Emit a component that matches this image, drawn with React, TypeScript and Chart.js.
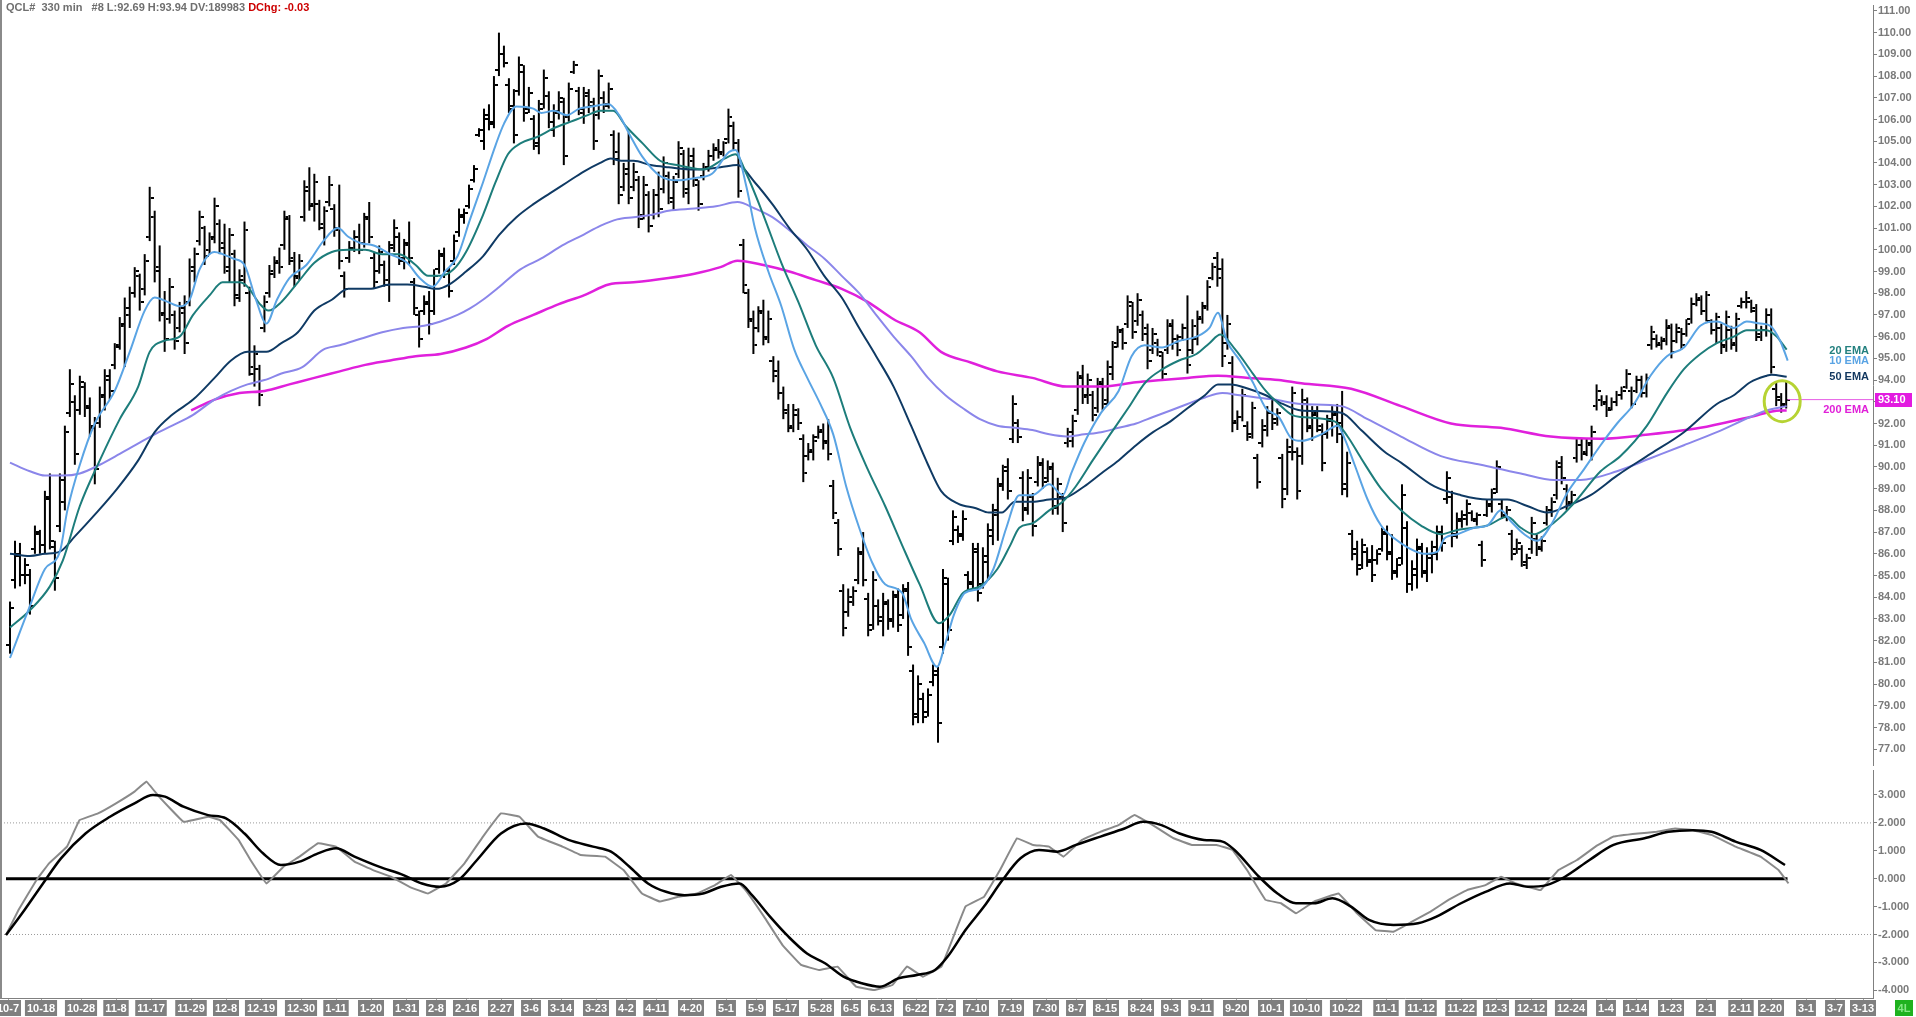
import React, { useEffect, useRef } from "react";
import { Chart, registerables } from "chart.js";

Chart.register(...registerables);

const FONT = "Arial, 'Liberation Sans', sans-serif";
const AXIS_GRAY = "#808080";

// ---- price bars (one per session, index 0..356) ----
const opens = [
  81.8, 84.8, 85.9, 85.0, 85.0, 86.2, 86.9, 86.4, 88.6, 86.3,
  87.3, 88.4, 92.5, 93.0, 92.6, 93.7, 92.8, 91.9, 92.0, 93.2,
  94.0, 94.7, 95.6, 96.5, 97.0, 98.0, 98.8, 98.2, 100.6, 101.5,
  99.2, 97.0, 96.8, 97.0, 96.4, 97.1, 97.6, 99.0, 100.4, 101.0,
  100.0, 100.5, 101.2, 100.3, 99.0, 99.8, 97.9, 98.6, 98.0, 94.3,
  94.5, 96.4, 98.0, 98.9, 99.4, 100.2, 101.4, 99.5, 98.8, 101.5,
  102.7, 102.0, 102.1, 101.0, 102.2, 101.9, 101.0, 98.8, 99.6, 100.1,
  100.6, 100.3, 101.5, 99.6, 99.0, 99.3, 98.4, 100.2, 100.6, 99.5,
  100.3, 98.5, 97.0, 97.2, 97.5, 97.2, 99.1, 99.8, 99.0, 99.5,
  100.8, 101.5, 102.0, 103.2, 105.3, 105.0, 106.0, 105.9, 108.3, 109.0,
  107.6, 106.5, 107.3, 108.2, 106.5, 106.0, 104.8, 106.7, 107.1, 105.5,
  106.3, 106.8, 106.1, 108.2, 107.3, 106.3, 107.1, 106.8, 106.2, 107.0,
  106.7, 105.3, 104.5, 102.9, 103.5, 102.9, 103.2, 101.6, 102.5, 101.6,
  102.5, 102.8, 103.4, 102.2, 103.5, 104.4, 102.6, 104.1, 103.0, 103.4,
  103.7, 104.3, 104.6, 104.5, 105.1, 105.7, 104.9, 100.2, 98.0, 96.8,
  96.4, 97.2, 96.0, 94.9, 94.4, 93.4, 92.6, 91.8, 92.4, 91.3,
  90.5, 90.7, 91.4, 91.6, 91.2, 89.1, 87.4, 84.3, 83.3, 83.8,
  84.8, 86.1, 83.9, 82.7, 83.6, 82.9, 83.7, 83.0, 84.1, 83.2,
  84.4, 80.6, 78.6, 79.3, 78.7, 80.1, 80.4, 81.7, 84.6, 86.6,
  87.1, 86.9, 85.0, 84.7, 86.2, 84.6, 85.6, 86.8, 87.8, 89.1,
  90.0, 91.3, 92.0, 89.5, 88.1, 88.6, 89.3, 90.1, 89.5, 89.9,
  88.1, 88.6, 91.1, 91.2, 92.6, 94.2, 93.2, 93.3, 92.7, 93.9,
  93.1, 94.3, 95.7, 96.2, 96.6, 97.4, 96.7, 97.0, 96.4, 95.4,
  95.7, 95.1, 95.4, 96.6, 95.9, 96.0, 96.4, 95.4, 95.9, 96.8,
  97.4, 98.7, 99.6, 99.1, 95.7, 94.8, 92.0, 92.3, 91.9, 91.5,
  90.4, 91.1, 91.7, 92.5, 92.2, 90.4, 89.0, 90.7, 90.7, 90.5,
  92.9, 91.8, 92.4, 91.7, 91.5, 92.2, 92.4, 92.0, 89.0, 86.9,
  86.2, 85.5, 86.1, 85.6, 85.7, 86.2, 86.9, 86.1, 85.2, 85.8,
  87.2, 84.6, 85.0, 86.2, 85.1, 85.8, 86.0, 87.0, 88.5, 88.6,
  86.9, 87.5, 87.6, 87.9, 87.5, 86.4, 87.8, 88.2, 89.0, 88.3,
  87.7, 86.9, 86.2, 86.2, 85.5, 86.2, 86.7, 86.3, 87.4, 88.0,
  88.7, 90.2, 89.0, 88.4, 90.4, 91.0, 90.7, 91.0, 92.8, 93.1,
  92.9, 92.7, 93.0, 93.3, 93.7, 93.5, 93.5, 94.0, 93.4, 95.6,
  95.9, 95.6, 95.8, 96.4, 95.8, 96.2, 96.1, 96.8, 97.5, 97.7,
  97.2, 96.7, 96.3, 96.4, 95.6, 96.3, 95.6, 97.4, 97.6, 97.6,
  97.2, 96.0, 96.3, 97.0, 93.6, 93.2, 92.9,
];
const highs = [
  83.8, 86.6, 86.5, 85.8, 85.3, 87.3, 87.1, 88.9, 89.7, 86.6,
  89.7, 91.9, 94.5, 93.3, 94.2, 93.9, 93.2, 92.3, 93.7, 94.5,
  94.5, 95.7, 96.9, 97.8, 98.3, 99.2, 98.9, 99.8, 102.9, 101.8,
  100.2, 98.1, 98.7, 97.2, 97.6, 97.9, 99.6, 100.1, 101.8, 101.1,
  100.8, 102.4, 101.4, 101.2, 101.0, 100.0, 99.1, 101.3, 98.3, 95.6,
  94.7, 97.9, 99.3, 99.7, 100.1, 101.8, 101.6, 99.9, 99.8, 103.2,
  103.8, 103.5, 102.3, 102.0, 103.4, 102.1, 103.0, 99.0, 100.4, 100.9,
  101.2, 101.7, 102.2, 99.9, 100.2, 99.5, 100.4, 101.4, 100.8, 100.5,
  101.3, 98.7, 97.2, 97.9, 98.1, 99.1, 100.0, 100.1, 99.2, 100.7,
  101.9, 101.9, 103.0, 103.9, 105.6, 106.5, 106.7, 108.0, 110.0, 109.4,
  107.9, 107.4, 108.9, 108.5, 107.5, 106.2, 106.9, 108.3, 107.3, 106.7,
  107.3, 107.0, 107.7, 108.7, 107.5, 107.5, 107.4, 107.0, 108.3, 107.3,
  107.7, 105.5, 105.4, 104.0, 105.4, 104.0, 103.4, 103.4, 102.7, 102.8,
  103.6, 104.3, 103.6, 103.4, 105.0, 104.6, 104.7, 104.7, 103.2, 104.0,
  104.6, 104.9, 105.1, 105.0, 106.5, 105.9, 105.1, 100.5, 98.2, 97.2,
  97.4, 97.7, 97.2, 95.1, 94.9, 93.7, 92.9, 92.9, 92.7, 91.5,
  91.1, 91.5, 91.9, 92.0, 92.2, 89.4, 87.6, 84.6, 84.4, 84.5,
  86.3, 87.0, 84.2, 85.2, 83.9, 84.2, 83.9, 84.3, 84.4, 84.6,
  84.7, 80.9, 80.4, 79.6, 79.8, 80.9, 80.8, 85.3, 84.9, 88.0,
  87.3, 88.0, 85.2, 86.5, 86.5, 86.3, 87.4, 88.3, 89.5, 90.1,
  90.4, 93.3, 92.2, 89.8, 89.9, 88.8, 90.5, 90.4, 90.3, 90.2,
  89.5, 88.8, 91.8, 92.4, 94.4, 94.7, 94.3, 93.5, 94.1, 94.1,
  94.9, 95.8, 96.5, 96.4, 97.9, 97.6, 98.0, 97.2, 96.6, 96.4,
  95.9, 95.3, 96.8, 96.8, 96.1, 96.6, 97.9, 96.8, 97.2, 97.6,
  98.6, 99.4, 99.9, 99.6, 97.0, 95.1, 92.6, 93.6, 92.1, 93.0,
  90.6, 92.2, 92.8, 93.2, 92.7, 90.6, 91.3, 93.7, 90.9, 93.6,
  93.2, 92.8, 92.8, 92.0, 92.4, 92.8, 92.9, 93.5, 90.7, 87.1,
  86.6, 86.7, 86.3, 86.4, 86.2, 87.2, 87.3, 86.9, 85.8, 89.2,
  87.5, 85.7, 86.7, 86.5, 86.3, 86.6, 87.3, 87.3, 89.8, 88.9,
  87.9, 88.0, 88.5, 88.0, 87.9, 86.6, 88.5, 89.0, 90.3, 88.5,
  88.2, 87.1, 86.7, 86.4, 86.0, 87.7, 86.9, 86.8, 88.2, 88.6,
  90.3, 90.5, 89.2, 88.9, 91.3, 91.3, 91.3, 91.9, 93.8, 93.3,
  93.3, 93.2, 93.5, 93.7, 94.5, 93.7, 94.2, 94.2, 94.3, 96.5,
  96.1, 96.0, 96.8, 96.6, 96.6, 96.4, 96.8, 97.8, 98.0, 97.9,
  98.1, 96.8, 97.1, 96.6, 97.2, 96.5, 97.1, 97.8, 98.1, 97.7,
  97.5, 96.5, 97.3, 97.3, 93.9, 93.4, 93.94,
];
const lows = [
  81.4, 84.4, 84.5, 84.6, 83.2, 86.0, 86.0, 86.0, 86.2, 84.3,
  87.0, 88.0, 92.3, 90.1, 92.4, 92.3, 91.4, 89.2, 91.8, 92.6,
  93.1, 94.5, 95.4, 94.6, 96.4, 97.8, 97.2, 97.9, 100.4, 98.5,
  96.7, 95.3, 96.6, 95.4, 96.2, 95.2, 97.4, 98.5, 100.2, 99.3,
  99.8, 100.3, 99.8, 98.9, 98.5, 97.4, 97.6, 98.3, 94.2, 93.7,
  92.8, 96.2, 97.8, 98.7, 98.9, 100.0, 99.3, 98.3, 98.6, 101.3,
  101.8, 101.3, 100.9, 100.2, 102.0, 100.6, 99.1, 97.8, 99.4, 99.9,
  99.8, 100.1, 100.3, 98.2, 98.9, 98.3, 97.6, 99.9, 99.3, 99.1,
  99.3, 97.0, 95.5, 97.0, 96.1, 97.0, 98.9, 98.7, 97.8, 99.3,
  100.6, 101.2, 101.9, 103.1, 105.2, 104.6, 105.5, 105.6, 108.0, 108.4,
  106.3, 104.9, 107.1, 105.9, 106.3, 104.6, 104.4, 106.5, 105.6, 105.2,
  106.0, 103.9, 105.9, 108.1, 106.2, 105.8, 106.3, 104.6, 106.0, 106.3,
  106.5, 103.9, 102.1, 102.7, 102.1, 102.7, 101.0, 101.4, 100.8, 101.4,
  101.5, 102.6, 102.1, 101.8, 103.3, 102.4, 102.1, 102.9, 101.8, 103.2,
  103.6, 104.1, 104.2, 104.3, 104.9, 104.6, 102.4, 98.0, 96.4, 95.2,
  96.2, 95.6, 95.7, 93.9, 93.1, 92.2, 91.6, 91.6, 91.7, 89.3,
  90.3, 90.3, 91.3, 90.8, 90.3, 87.6, 85.9, 82.2, 83.1, 83.6,
  84.6, 84.5, 82.2, 82.5, 82.7, 82.2, 82.5, 82.6, 82.4, 83.0,
  81.3, 78.1, 78.2, 78.2, 78.5, 79.9, 77.3, 81.4, 82.0, 86.4,
  86.5, 86.6, 84.3, 84.4, 83.8, 84.4, 84.8, 86.4, 86.6, 88.9,
  88.5, 91.1, 91.1, 87.5, 87.8, 86.8, 89.1, 89.0, 89.3, 87.8,
  87.8, 87.0, 90.9, 90.9, 92.4, 92.9, 92.9, 92.1, 92.5, 92.6,
  92.9, 94.0, 95.5, 95.4, 96.4, 95.9, 96.5, 95.8, 94.5, 95.2,
  95.1, 94.0, 95.2, 95.4, 95.1, 95.8, 94.3, 95.2, 95.6, 96.6,
  97.2, 98.6, 98.3, 94.6, 95.4, 91.6, 91.7, 92.1, 91.2, 91.3,
  89.0, 90.9, 91.4, 91.7, 91.9, 88.1, 88.7, 90.3, 88.5, 90.1,
  91.6, 91.2, 91.6, 89.8, 91.3, 91.4, 91.1, 88.7, 88.6, 85.7,
  85.0, 85.3, 85.4, 84.7, 85.5, 86.1, 85.7, 84.8, 84.9, 85.5,
  84.2, 84.3, 84.4, 84.9, 84.7, 85.1, 85.7, 86.1, 88.3, 86.3,
  86.7, 87.2, 87.3, 87.5, 87.3, 85.4, 87.7, 87.9, 88.8, 87.6,
  87.5, 85.7, 86.0, 85.4, 85.3, 86.0, 85.9, 86.1, 87.3, 87.7,
  88.5, 89.2, 88.0, 88.2, 90.2, 90.3, 90.5, 90.3, 92.6, 92.8,
  92.3, 92.6, 92.8, 93.1, 93.6, 92.7, 93.4, 93.2, 93.2, 95.4,
  95.5, 95.4, 95.6, 95.0, 95.7, 95.4, 96.0, 96.6, 97.4, 97.0,
  96.7, 96.1, 95.7, 95.2, 95.3, 95.4, 95.3, 97.3, 97.3, 97.1,
  95.8, 95.8, 96.0, 94.3, 92.8, 92.5, 92.69,
];
const closes = [
  83.5, 86.0, 85.0, 85.5, 83.6, 87.0, 86.4, 88.5, 86.6, 84.9,
  89.4, 91.6, 93.8, 90.6, 93.9, 92.7, 91.8, 89.9, 93.3, 94.2,
  93.5, 95.5, 96.6, 97.3, 98.0, 99.0, 97.6, 99.5, 102.4, 99.0,
  97.1, 95.9, 98.3, 95.8, 97.3, 95.7, 99.2, 99.8, 101.5, 99.7,
  100.6, 102.0, 100.1, 99.2, 100.7, 97.8, 98.8, 100.9, 94.6, 95.2,
  93.3, 97.6, 99.0, 99.5, 99.2, 101.5, 99.6, 98.7, 99.5, 102.9,
  102.1, 103.1, 101.2, 101.8, 103.0, 100.9, 99.5, 98.2, 100.1, 100.6,
  100.0, 101.4, 100.6, 98.5, 99.9, 98.6, 100.1, 101.0, 99.6, 100.2,
  99.6, 97.3, 95.9, 97.6, 96.6, 98.8, 99.7, 99.0, 98.1, 100.4,
  101.6, 101.7, 102.8, 103.7, 105.5, 106.2, 105.8, 107.6, 109.0, 108.6,
  106.6, 105.3, 108.5, 106.3, 107.2, 104.9, 106.5, 107.9, 105.9, 106.4,
  107.0, 104.3, 107.4, 108.5, 106.5, 107.2, 106.6, 105.0, 108.0, 106.6,
  107.4, 104.2, 102.5, 103.7, 102.4, 103.6, 101.4, 103.0, 101.1, 102.5,
  101.9, 104.0, 102.4, 103.1, 104.7, 102.8, 104.3, 103.2, 102.1, 103.8,
  104.3, 104.7, 104.4, 104.9, 106.1, 104.9, 102.7, 98.4, 96.7, 95.6,
  97.1, 95.9, 96.8, 94.2, 93.4, 92.5, 91.9, 92.6, 92.0, 89.7,
  90.8, 91.2, 91.7, 91.1, 90.6, 87.9, 86.2, 82.6, 84.0, 84.3,
  86.0, 84.8, 82.5, 84.8, 83.1, 83.8, 82.9, 84.0, 82.7, 84.3,
  81.7, 78.5, 80.0, 78.5, 79.5, 80.6, 78.2, 84.9, 82.5, 87.7,
  86.8, 87.6, 84.6, 86.1, 84.2, 85.9, 87.1, 88.0, 89.2, 89.8,
  88.9, 92.9, 91.4, 88.0, 89.5, 87.3, 90.2, 89.3, 90.0, 88.2,
  89.2, 87.4, 91.6, 92.1, 94.1, 93.3, 94.0, 92.4, 93.8, 92.9,
  94.6, 95.5, 96.3, 95.7, 97.6, 96.2, 97.7, 96.1, 94.9, 96.1,
  95.3, 94.3, 96.5, 95.7, 95.4, 96.4, 94.7, 96.5, 96.9, 97.3,
  98.3, 99.2, 98.7, 95.1, 96.6, 92.1, 92.3, 93.3, 91.4, 92.7,
  89.3, 91.9, 92.5, 92.0, 92.5, 88.5, 90.9, 93.4, 88.9, 93.1,
  91.9, 92.5, 91.9, 90.2, 92.1, 92.5, 91.5, 89.2, 90.2, 86.0,
  85.3, 86.4, 85.7, 85.0, 86.0, 87.0, 86.0, 85.1, 85.5, 88.7,
  84.6, 85.3, 86.3, 85.2, 86.0, 86.3, 87.0, 86.5, 89.5, 86.8,
  87.6, 87.8, 88.3, 87.6, 87.8, 85.7, 88.3, 88.8, 90.0, 87.8,
  88.0, 86.0, 86.5, 85.6, 85.8, 87.4, 86.2, 86.6, 88.0, 88.4,
  90.0, 89.5, 88.3, 88.7, 91.0, 90.6, 91.1, 91.6, 93.5, 93.0,
  92.6, 93.0, 93.3, 93.5, 94.3, 92.9, 94.0, 93.4, 94.1, 96.2,
  95.7, 95.9, 96.5, 95.3, 96.4, 95.6, 96.6, 97.5, 97.8, 97.2,
  97.9, 96.3, 96.9, 95.5, 96.9, 95.7, 96.8, 97.6, 97.8, 97.3,
  96.1, 96.3, 97.0, 94.6, 93.1, 92.8, 93.1,
];

// ---- moving averages: [bar index, price] ----
const ema10Pts = [
  [0, 81.2], [4, 83.6], [7, 85.3], [10, 86.1], [11.5, 88.0], [14, 90.1], [17, 92.0], [21, 93.5], [24, 95.3], [27, 97.2],
  [29, 97.8], [31.6, 97.6], [34, 97.4], [36, 97.7], [38, 99.1], [41, 99.9], [42.6, 99.8], [44.7, 99.6], [47, 99.3], [49.3, 97.7],
  [51.4, 96.6], [53.5, 97.7], [56, 98.7], [59.4, 99.3], [62.8, 100.4], [65.7, 101.0], [67.8, 100.6], [70.3, 100.3], [72.9, 100.2], [76.2, 99.8],
  [79.6, 99.4], [82.1, 98.7], [84.7, 98.3], [87.2, 99.0], [89.7, 99.7], [92.2, 101.4], [94.8, 103.1], [97.3, 104.8], [99, 105.8], [101.5, 106.6],
  [104.9, 106.5], [106.5, 106.3], [109, 106.4], [111.6, 106.2], [114.1, 106.5], [116.6, 106.6], [120, 106.7], [122.1, 106.2], [124.2, 105.3], [126.7, 104.3],
  [130.3, 103.4], [133.7, 103.2], [137.2, 103.3], [140.7, 103.5], [144.1, 104.5], [145.4, 104.6], [147.6, 102.9], [149.3, 101.0], [152, 99.0], [154.6, 97.4],
  [157.2, 95.4], [159.8, 94.1], [162.4, 92.9], [165, 91.5], [167.6, 89.1], [170.2, 87.2], [172.8, 85.6], [175.4, 84.6], [178.8, 84.2], [180.6, 83.0],
  [183.2, 81.9], [185.8, 80.8], [187.5, 81.9], [189.2, 83.2], [191.4, 84.2], [194.4, 84.4], [197.1, 85.3], [199.7, 87.2], [202.3, 88.7], [204.9, 88.7],
  [208.3, 89.2], [211, 88.7], [212.7, 89.7], [215.3, 91.1], [218.7, 92.5], [222.2, 93.5], [224.8, 95.1], [227.4, 95.6], [230.9, 95.5], [234.3, 95.8],
  [237.8, 96.0], [240.4, 96.4], [242.1, 97.1], [243.9, 95.8], [246.5, 94.9], [249.1, 93.9], [251.7, 92.7], [254.3, 92.3], [256.9, 91.3], [258.8, 91.2],
  [262.8, 91.5], [266.1, 91.9], [267.5, 91.3], [269.5, 90.1], [272.1, 88.5], [274.8, 87.3], [277.5, 86.7], [280.1, 86.3], [283.5, 86.0], [286.1, 86.1],
  [287.5, 86.7], [290.1, 86.9], [293.5, 87.2], [296.1, 87.3], [298.8, 88.0], [300.8, 87.5], [303.5, 86.9], [306.1, 86.6], [308.8, 87.3], [312.1, 88.8],
  [315.5, 89.9], [318.8, 91.0], [322.1, 92.0], [325.5, 92.9], [328.8, 94.2], [332.1, 95.1], [335.5, 95.5], [338.8, 96.5], [342.1, 96.7], [345.5, 96.4],
  [348.1, 96.7], [350.8, 96.6], [352.8, 96.5], [354.8, 95.8], [356.3, 94.9],
];
const ema20Pts = [
  [0, 82.6], [4, 83.4], [8, 84.5], [10.6, 85.7], [14, 88.2], [18, 90.3], [22, 92.2], [25.7, 93.7], [28, 95.3], [30.8, 95.8],
  [34, 96.0], [36.7, 97.0], [40, 97.9], [42.6, 98.5], [46, 98.5], [47.6, 98.3], [50.1, 97.5], [51.8, 97.2], [54.4, 97.6], [57.7, 98.5],
  [61, 99.4], [64.5, 99.9], [67.8, 100.0], [71.2, 100.0], [74.6, 99.8], [78, 99.8], [81.3, 99.3], [83.8, 98.8], [86.3, 98.8], [88.9, 99.1],
  [91.4, 99.9], [94.8, 101.6], [97.3, 103.1], [99.8, 104.4], [102.3, 104.9], [105.7, 105.2], [109, 105.6], [112.4, 105.9], [115.8, 106.2], [118.3, 106.4],
  [120.9, 106.4], [123.4, 105.7], [126.8, 104.9], [130.3, 104.1], [133.7, 103.9], [138.9, 103.7], [143.2, 104.2], [145.4, 104.4], [147.6, 103.5], [151, 101.6],
  [154.6, 99.4], [158, 97.6], [161.5, 95.6], [165, 94.1], [168.4, 91.8], [171.9, 89.9], [175.4, 88.2], [178.8, 86.4], [182.3, 84.6], [186.2, 82.8],
  [188.4, 83.2], [191, 84.2], [194.4, 84.5], [197.9, 85.3], [200.5, 86.4], [202.3, 87.2], [204.9, 87.4], [208.3, 88.0], [211, 88.4], [213.6, 89.1],
  [217, 90.3], [220.5, 91.5], [224.1, 92.7], [227.6, 93.9], [231, 94.5], [234.3, 94.9], [237.8, 95.2], [240.4, 95.7], [242.6, 96.1], [245.6, 95.4],
  [249.1, 94.3], [251.7, 93.5], [254.3, 92.9], [256.9, 92.4], [258.8, 92.3], [265.5, 92.1], [268.1, 91.4], [270.8, 90.4], [274.8, 89.0], [278.8, 88.0],
  [282.8, 87.3], [286.8, 86.9], [290.1, 87.1], [293.5, 87.2], [296.1, 87.3], [300.1, 87.7], [302.8, 87.2], [305.5, 86.9], [308.1, 87.2], [310.8, 87.7],
  [314.1, 88.5], [318.8, 89.8], [322.8, 90.5], [328.1, 91.9], [332.1, 93.4], [335.5, 94.5], [338.8, 95.2], [342.1, 95.7], [345.5, 96.0], [348.1, 96.3],
  [352.1, 96.3], [354.1, 96.0], [356.1, 95.4],
];
const ema50Pts = [
  [0, 86.0], [4, 85.9], [7, 86.0], [10, 86.1], [13, 86.8], [17, 87.8], [21.5, 89.0], [25.7, 90.3], [29, 91.6], [32.5, 92.4],
  [36.7, 93.1], [41, 94.1], [44.3, 94.9], [47.6, 95.3], [51.4, 95.3], [54.4, 95.7], [57.7, 96.2], [61, 97.2], [64.5, 97.7], [67.8, 98.2],
  [72, 98.2], [76.2, 98.4], [79.6, 98.4], [83, 98.3], [85.5, 98.2], [88, 98.4], [91.4, 99.0], [94.8, 99.7], [98.1, 100.7], [101.5, 101.5],
  [104.9, 102.1], [108.2, 102.6], [111.6, 103.1], [115, 103.6], [118.3, 104.0], [120.4, 104.2], [122.5, 104.1], [125, 104.1], [128.4, 103.9], [132, 103.8],
  [137.2, 103.7], [142.4, 103.8], [145.8, 103.9], [149.3, 103.1], [152.8, 102.1], [156.2, 101.0], [159.8, 100.0], [163.2, 98.8], [166.7, 97.8], [170.2, 96.4],
  [173.6, 95.1], [177.1, 93.7], [180.6, 91.9], [184, 90.1], [186.6, 88.9], [190.1, 88.3], [193.6, 88.1], [196.2, 87.9], [198.8, 87.9], [201.4, 88.4],
  [204.9, 88.4], [208.3, 88.5], [211.8, 88.6], [215.3, 89.1], [218.7, 89.7], [222.2, 90.3], [225.7, 91.0], [229.1, 91.6], [232.6, 92.1], [236, 92.7],
  [239.5, 93.3], [242.1, 93.8], [244.7, 93.8], [248.2, 93.6], [251.7, 93.3], [255.1, 92.9], [258.8, 92.6], [266.8, 92.5], [270.8, 91.7], [275.5, 90.7],
  [278.8, 90.2], [285.5, 89.1], [290.8, 88.7], [296.1, 88.5], [300.1, 88.5], [304.1, 88.2], [308.1, 87.9], [312.1, 88.2], [316.8, 88.7], [322.1, 89.6],
  [328.8, 90.6], [335.5, 91.6], [342.1, 92.9], [345.5, 93.3], [348.8, 93.9], [352.1, 94.2], [353.1, 94.25], [356.1, 94.15],
];
const ema100Pts = [
  [0, 90.2], [4, 89.8], [7, 89.6], [10.6, 89.6], [14, 89.7], [18, 90.1], [22, 90.6], [26.6, 91.2], [29, 91.5], [32.5, 91.9],
  [36.7, 92.4], [41, 93.1], [44.3, 93.5], [47.6, 93.8], [51, 94.0], [54.4, 94.3], [58.6, 94.6], [62.8, 95.4], [66.1, 95.6], [70.3, 95.9],
  [74.6, 96.2], [78.8, 96.4], [83, 96.5], [86.3, 96.7], [89.7, 97.0], [92.2, 97.3], [94.8, 97.7], [98.1, 98.3], [102.3, 99.1], [106.5, 99.6],
  [110.7, 100.2], [115, 100.7], [118.3, 101.1], [121.7, 101.4], [125, 101.5], [128.4, 101.6], [132, 101.8], [137.2, 101.9], [141.5, 102.0], [145.8, 102.2],
  [149.3, 101.9], [152.8, 101.5], [156.2, 100.9], [159.8, 100.2], [163.2, 99.6], [166.7, 98.8], [170.2, 98.0], [173.6, 97.0], [177.1, 96.0], [180.6, 95.1],
  [184, 94.1], [187.5, 93.3], [191, 92.7], [194.4, 92.2], [197.9, 91.9], [201.4, 91.8], [204.9, 91.7], [208.3, 91.5], [211.8, 91.4], [215.3, 91.5],
  [218.7, 91.6], [222.2, 91.8], [225.7, 92.0], [229.1, 92.3], [232.6, 92.6], [236, 92.9], [239.5, 93.2], [243, 93.4], [246.5, 93.3], [249.9, 93.2],
  [253.4, 93.1], [258.8, 92.9], [266.8, 92.8], [272.1, 92.2], [278.8, 91.4], [286.8, 90.5], [294.8, 90.1], [302.8, 89.7], [309.5, 89.4], [314.8, 89.4],
  [322.1, 89.8], [328.8, 90.4], [335.5, 91.0], [342.1, 91.6], [348.8, 92.3], [352.1, 92.6], [356.1, 92.8],
];
const ema200Pts = [
  [36.3, 92.6], [41, 93.1], [46, 93.4], [51, 93.5], [56, 93.8], [61, 94.1], [66.1, 94.4], [71.2, 94.7], [76.2, 94.9], [81.3, 95.1],
  [86.3, 95.2], [91.4, 95.5], [95.6, 95.9], [99.8, 96.5], [104.9, 97.0], [110, 97.5], [115, 97.9], [120, 98.4], [125, 98.5], [132, 98.7],
  [137.2, 98.9], [142.4, 99.2], [145.8, 99.5], [151, 99.3], [156.2, 99.0], [161.5, 98.6], [166.7, 98.2], [171.9, 97.6], [177.1, 96.8], [182.3, 96.2],
  [186.6, 95.3], [192.7, 94.8], [197.9, 94.4], [204.9, 94.1], [211.8, 93.7], [218.7, 93.7], [225.7, 93.9], [230.9, 94.0], [236, 94.1], [242.1, 94.2],
  [248.2, 94.1], [254.3, 94.0], [258.8, 93.85], [268.8, 93.6], [278.8, 92.8], [288.8, 92.0], [298.8, 91.8], [308.8, 91.4], [318.8, 91.3], [328.8, 91.5],
  [338.8, 91.8], [348.8, 92.3], [354.8, 92.6], [356.1, 92.6],
];

// ---- lower oscillator panel: [bar index, value] ----
const oscPts = [
  [0, -2.02], [2.5, -1.12], [6.1, -0.05], [8.6, 0.55], [12.2, 1.15], [14.7, 2.1], [18.4, 2.34], [22, 2.7], [25.7, 3.12], [28.1, 3.48],
  [30.6, 2.94], [35.5, 2.04], [40.4, 2.22], [42.8, 2.1], [46.5, 1.39], [48.9, 0.67], [52.1, -0.17], [55.5, 0.43], [58.7, 0.79], [62.4, 1.27],
  [66, 1.15], [69.7, 0.61], [73.4, 0.31], [77, 0.07], [80.7, -0.29], [84.4, -0.53], [88, -0.17], [91.7, 0.55], [95.4, 1.51], [99, 2.34],
  [102.7, 2.22], [106.4, 1.51], [111.3, 1.15], [114.9, 0.85], [119.8, 0.79], [123.5, 0.31], [127.2, -0.53], [130.8, -0.82], [134.5, -0.65], [138.2, -0.53],
  [141.8, -0.23], [145, 0.13], [147.9, -0.41], [151.6, -1.36], [155.3, -2.38], [159, -3.09], [162.6, -3.27], [166.3, -3.15], [170, -3.87], [173.6, -3.99],
  [177.3, -3.81], [180.2, -3.15], [183.4, -3.51], [187.1, -3.15], [191.9, -1.0], [195.6, -0.65], [198.8, 0.31], [202.2, 1.45], [205.4, 1.21], [208.6, 1.15],
  [211.5, 0.79], [215.2, 1.39], [218.9, 1.68], [222.5, 1.92], [225.7, 2.28], [229.9, 1.86], [233.5, 1.45], [237.2, 1.21], [242.1, 1.21], [245.3, 1.03],
  [248.2, 0.31], [251.9, -0.76], [255, -0.88], [258, -1.24], [261.6, -0.82], [266.5, -0.53], [270.2, -1.24], [273.9, -1.84], [277.5, -1.9], [281.2, -1.54],
  [284.9, -1.18], [288.5, -0.76], [292.2, -0.41], [295.9, -0.23], [299, 0.07], [302, -0.17], [306.9, -0.41], [310.5, 0.31], [314.2, 0.67], [317.9, 1.15],
  [321.5, 1.51], [326.4, 1.62], [330.1, 1.68], [333.8, 1.8], [337.4, 1.74], [341.1, 1.57], [345.9, 1.15], [350.9, 0.79], [354.5, 0.31], [356.5, -0.17],
];
const signalPts = [
  [0, -2.02], [3.7, -1.12], [7.4, -0.17], [11, 0.73], [15.9, 1.62], [20.8, 2.22], [25.7, 2.7], [29.4, 3.0], [31.8, 2.94], [35.5, 2.58],
  [40.4, 2.28], [44, 2.16], [47.7, 1.62], [51.4, 0.91], [55, 0.49], [58.7, 0.61], [62.4, 0.91], [66, 1.09], [69.7, 0.79], [74.6, 0.43],
  [79.5, 0.13], [83.2, -0.17], [86.8, -0.29], [90.5, -0.05], [94.2, 0.67], [99, 1.62], [104, 1.98], [107.6, 1.8], [112.5, 1.39], [117.4, 1.15],
  [121, 0.97], [124.7, 0.43], [128.4, -0.17], [132, -0.47], [135.7, -0.59], [139.4, -0.53], [143, -0.29], [146.7, -0.17], [149.2, -0.59], [152.8, -1.36],
  [156.5, -2.08], [160.2, -2.68], [163.8, -3.03], [167.5, -3.51], [171.2, -3.75], [174.8, -3.87], [178.5, -3.57], [182.2, -3.45], [185.8, -3.27], [188.3, -2.8],
  [191.9, -1.84], [195.6, -1.0], [199.3, -0.05], [202.9, 0.73], [206.6, 1.03], [210.3, 0.97], [214, 1.21], [218.9, 1.51], [223.7, 1.8], [227.4, 2.04],
  [231.1, 1.92], [234.7, 1.62], [239.6, 1.39], [243.3, 1.33], [245.7, 1.03], [250.6, 0.07], [254.3, -0.53], [258, -0.88], [261.6, -0.88], [265.3, -0.7],
  [269, -1.0], [272.6, -1.48], [277.5, -1.66], [282.4, -1.6], [286.1, -1.36], [291, -0.88], [295.9, -0.47], [300.8, -0.17], [304.4, -0.29], [308.1, -0.23],
  [311.8, 0.07], [316.7, 0.67], [321.5, 1.21], [327.7, 1.45], [332.5, 1.68], [337.4, 1.74], [341.1, 1.68], [345.9, 1.33], [350.9, 1.03], [355.8, 0.49],
];

// ---- axes ----
const dateLabels = [
  "10-7", "10-18", "10-28", "11-8", "11-17", "11-29", "12-8", "12-19", "12-30", "1-11",
  "1-20", "1-31", "2-8", "2-16", "2-27", "3-6", "3-14", "3-23", "4-2", "4-11",
  "4-20", "5-1", "5-9", "5-17", "5-28", "6-5", "6-13", "6-22", "7-2", "7-10",
  "7-19", "7-30", "8-7", "8-15", "8-24", "9-3", "9-11", "9-20", "10-1", "10-10",
  "10-22", "11-1", "11-12", "11-22", "12-3", "12-12", "12-24", "1-4", "1-14", "1-23",
  "2-1", "2-11", "2-20", "3-1", "3-7", "3-13",
];
const dateLabelIdx = [
  0.4, 7, 15, 22, 29, 37, 44, 51, 59, 66,
  73, 80, 86, 92, 99, 105, 111, 118, 124, 130,
  137, 144, 150, 156, 163, 169, 175, 182, 188, 194,
  201, 208, 214, 220, 227, 233, 239, 246, 253, 260,
  268, 276, 283, 291, 298, 305, 313, 320, 326, 333,
  340, 347, 353, 360, 365.8, 371.4,
];
const priceTicks = [
  77, 78, 79, 80, 81, 82, 83, 84, 85, 86, 87, 88, 89, 90, 91, 92, 93, 94,
  95, 96, 97, 98, 99, 100, 101, 102, 103, 104, 105, 106, 107, 108, 109, 110, 111,
];
const oscTicks = [3, 2, 1, 0, -1, -2, -3, -4];
const lastPrice = 93.1;
const emaLabels = [
  { text: "20 EMA", value: 95.36, color: "#23807f" },
  { text: "10 EMA", value: 94.9, color: "#5aa4e4" },
  { text: "50 EMA", value: 94.12, color: "#12375f" },
  { text: "200 EMA", value: 92.61, color: "#e020d8" },
];

const X_MIN = -1;
const X_MAX = 373.4;

const toXY = (pts: number[][]) => pts.map((p) => ({ x: p[0], y: p[1] }));

function makeTick(side: "left" | "right") {
  const c = document.createElement("canvas");
  c.width = 8;
  c.height = 2;
  const g = c.getContext("2d")!;
  g.fillStyle = "#000";
  if (side === "left") g.fillRect(0, 0, 3, 2);
  else g.fillRect(5, 0, 3, 2);
  return c;
}

function lineDs(pts: number[][], color: string, width: number, order = 1, mode: any = "monotone", tension = 0.2) {
  return {
    type: "line",
    data: toXY(pts),
    borderColor: color,
    borderWidth: width,
    pointRadius: 0,
    cubicInterpolationMode: mode,
    tension,
    fill: false,
    order,
  } as any;
}

export default function App() {
  const topRef = useRef<HTMLCanvasElement>(null);
  const botRef = useRef<HTMLCanvasElement>(null);

  useEffect(() => {
    const openTick = makeTick("left");
    const closeTick = makeTick("right");
    const tickFont = { family: FONT, size: 11, weight: "bold" as const, lineHeight: 1 };

    const overlayTop = {
      id: "overlayTop",
      afterDatasetsDraw(chart: any) {
        const { ctx } = chart;
        const xs = chart.scales.x;
        const ys = chart.scales.y;
        ctx.save();
        ctx.strokeStyle = "#b6d333";
        ctx.lineWidth = 3;
        ctx.beginPath();
        ctx.ellipse(xs.getPixelForValue(355.2), ys.getPixelForValue(93.03), 18, 20.5, 0, 0, Math.PI * 2);
        ctx.stroke();
        ctx.font = `bold 11px ${FONT}`;
        ctx.textAlign = "right";
        ctx.textBaseline = "middle";
        emaLabels.forEach((l) => {
          ctx.fillStyle = l.color;
          ctx.fillText(l.text, chart.chartArea.right - 4, ys.getPixelForValue(l.value));
        });
        ctx.restore();
      },
      afterDraw(chart: any) {
        const { ctx } = chart;
        const ys = chart.scales.y;
        const y = ys.getPixelForValue(lastPrice);
        const left = chart.chartArea.right + 2;
        ctx.save();
        ctx.fillStyle = "#e21be0";
        ctx.fillRect(left, Math.round(y - 7), 37, 14);
        ctx.fillStyle = "#ffffff";
        ctx.font = `bold 11px ${FONT}`;
        ctx.textAlign = "left";
        ctx.textBaseline = "middle";
        ctx.fillText(lastPrice.toFixed(2), left + 3, y + 0.5);
        ctx.restore();
      },
    };

    const overlayBottom = {
      id: "overlayBottom",
      afterDraw(chart: any) {
        const { ctx } = chart;
        const top = chart.chartArea.bottom + 2;
        ctx.save();
        ctx.fillStyle = "#1fb21f";
        ctx.fillRect(1895, top, 18, 16);
        ctx.fillStyle = "#86e886";
        ctx.font = `bold 11px ${FONT}`;
        ctx.textAlign = "center";
        ctx.textBaseline = "middle";
        ctx.fillText("4L", 1904, top + 8.5);
        ctx.restore();
      },
    };

    const c1 = new Chart(topRef.current!, {
      type: "line",
      data: {
        datasets: [
          lineDs(ema10Pts, "#5aa4e4", 2, 1),
          lineDs(ema20Pts, "#1d7d7b", 2, 1),
          lineDs(ema50Pts, "#0f3a64", 2, 1),
          lineDs(ema100Pts, "#8b86ea", 2, 2),
          lineDs(ema200Pts, "#e020dc", 2.5, 2),
          {
            type: "line",
            data: [
              { x: 356.3, y: lastPrice },
              { x: X_MAX, y: lastPrice },
            ],
            borderColor: "#e65ce4",
            borderWidth: 1,
            pointRadius: 0,
            order: 3,
          } as any,
          {
            type: "line",
            data: opens.map((o, i) => ({ x: i, y: o })),
            showLine: false,
            pointStyle: openTick,
            pointRadius: 2,
            order: 9,
          } as any,
          {
            type: "line",
            data: closes.map((c, i) => ({ x: i, y: c })),
            showLine: false,
            pointStyle: closeTick,
            pointRadius: 2,
            order: 9,
          } as any,
          {
            type: "bar",
            data: highs.map((h, i) => ({ x: i, y: [lows[i], h] })),
            backgroundColor: "#000000",
            borderWidth: 0,
            barThickness: 2,
            inflateAmount: 0,
            order: 10,
          } as any,
        ],
      },
      options: {
        animation: false,
        responsive: false,
        maintainAspectRatio: false,
        devicePixelRatio: 1,
        events: [],
        layout: { padding: { left: 1, right: 0, top: 0, bottom: 0 } },
        plugins: { legend: { display: false }, tooltip: { enabled: false } },
        scales: {
          x: { type: "linear", min: X_MIN, max: X_MAX, display: false, offset: false },
          y: {
            type: "linear",
            position: "right",
            min: 76.273,
            max: 111.273,
            afterBuildTicks: (s: any) => {
              s.ticks = priceTicks.map((v) => ({ value: v }));
            },
            afterFit: (s: any) => {
              s.width = 43;
              s.paddingTop = 0;
              s.paddingBottom = 0;
            },
            ticks: {
              callback: (v: any) => Number(v).toFixed(2),
              color: "#7a7a7a",
              font: tickFont,
              padding: 1,
            },
            grid: { drawOnChartArea: false, drawTicks: true, tickLength: 4, color: AXIS_GRAY },
            border: { color: AXIS_GRAY, width: 1 },
          },
        },
      } as any,
      plugins: [overlayTop],
    });

    const c2 = new Chart(botRef.current!, {
      type: "line",
      data: {
        datasets: [
          lineDs(signalPts, "#000000", 2.5, 1),
          lineDs(oscPts, "#8a8a8a", 2, 2, "default", 0.05),
          {
            type: "line",
            data: [
              { x: 0, y: 0 },
              { x: 356.3, y: 0 },
            ],
            borderColor: "#000000",
            borderWidth: 3,
            pointRadius: 0,
            order: 3,
          } as any,
          {
            type: "line",
            data: [
              { x: X_MIN, y: 2 },
              { x: X_MAX, y: 2 },
            ],
            borderColor: "#9a9a9a",
            borderWidth: 1,
            borderDash: [1, 2],
            pointRadius: 0,
            order: 4,
          } as any,
          {
            type: "line",
            data: [
              { x: X_MIN, y: -2 },
              { x: X_MAX, y: -2 },
            ],
            borderColor: "#9a9a9a",
            borderWidth: 1,
            borderDash: [1, 2],
            pointRadius: 0,
            order: 4,
          } as any,
        ],
      },
      options: {
        animation: false,
        responsive: false,
        maintainAspectRatio: false,
        devicePixelRatio: 1,
        events: [],
        layout: { padding: { left: 1, right: 0, top: 0, bottom: 0 } },
        plugins: { legend: { display: false }, tooltip: { enabled: false } },
        scales: {
          x: {
            type: "linear",
            position: "bottom",
            min: X_MIN,
            max: X_MAX,
            offset: false,
            afterBuildTicks: (s: any) => {
              s.ticks = dateLabelIdx.map((v) => ({ value: v }));
            },
            afterFit: (s: any) => {
              s.height = 19;
              s.paddingLeft = 0;
              s.paddingRight = 0;
            },
            ticks: {
              autoSkip: false,
              maxRotation: 0,
              minRotation: 0,
              callback: (_v: any, i: number) => dateLabels[i],
              color: "#ffffff",
              font: tickFont,
              padding: 3,
              showLabelBackdrop: true,
              backdropColor: "#7f7f7f",
              backdropPadding: { top: 3, bottom: 2, left: 2, right: 2 },
            },
            grid: { drawOnChartArea: false, drawTicks: true, tickLength: 2, color: "#a0a0a0" },
            border: { color: AXIS_GRAY, width: 1 },
          },
          y: {
            type: "linear",
            position: "right",
            min: -4.276,
            max: 3.896,
            afterBuildTicks: (s: any) => {
              s.ticks = oscTicks.map((v) => ({ value: v }));
            },
            afterFit: (s: any) => {
              s.width = 43;
              s.paddingTop = 0;
              s.paddingBottom = 0;
            },
            ticks: {
              callback: (v: any) => Number(v).toFixed(3),
              color: "#7a7a7a",
              font: tickFont,
              padding: 1,
            },
            grid: { drawOnChartArea: false, drawTicks: true, tickLength: 4, color: AXIS_GRAY },
            border: { color: AXIS_GRAY, width: 1 },
          },
        },
      } as any,
      plugins: [overlayBottom],
    });

    return () => {
      c1.destroy();
      c2.destroy();
    };
  }, []);

  return (
    <div
      style={{
        position: "fixed",
        left: 0,
        top: 0,
        width: 1916,
        height: 1017,
        background: "#ffffff",
        overflow: "hidden",
      }}
    >
      <canvas ref={topRef} width={1916} height={770} style={{ position: "absolute", left: 0, top: 0 }} />
      <canvas ref={botRef} width={1916} height={247} style={{ position: "absolute", left: 0, top: 770 }} />
      <div style={{ position: "absolute", left: 0, top: 0, width: 2, height: 999, background: "#8a8a8a" }} />
      <div
        style={{
          position: "absolute",
          left: 6,
          top: 1,
          font: `bold 11px ${FONT}`,
          color: "#6f6f6f",
          whiteSpace: "pre",
          lineHeight: "13px",
        }}
      >
        {"QCL#  330 min   #8 L:92.69 H:93.94 DV:189983 "}
        <span style={{ color: "#cc0000" }}>DChg: -0.03</span>
      </div>
    </div>
  );
}
